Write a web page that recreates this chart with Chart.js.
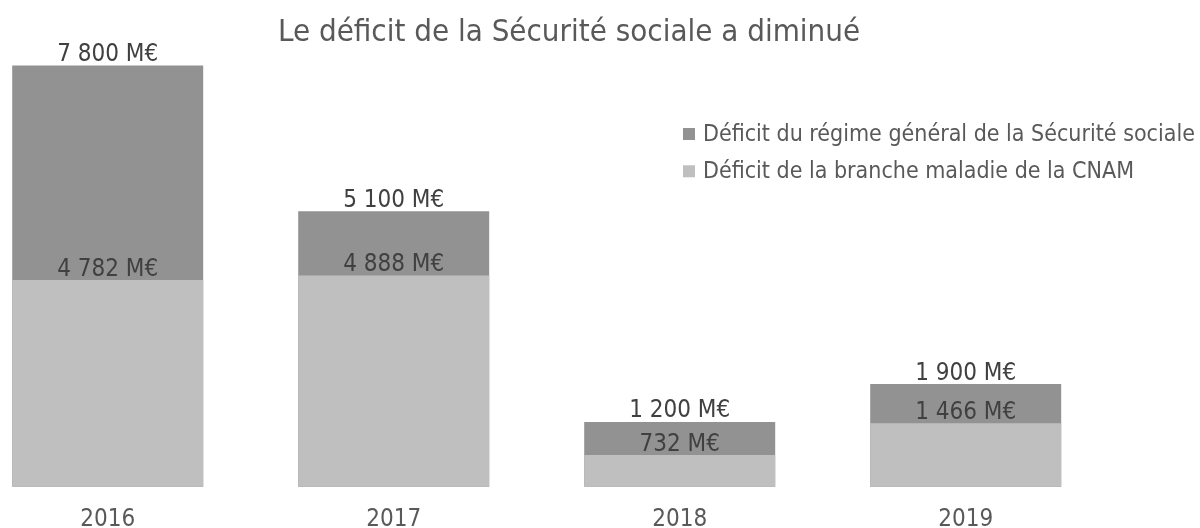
<!DOCTYPE html>
<html><head><meta charset="utf-8">
<script src="https://cdn.jsdelivr.net/npm/chart.js@4"></script>
<style>html,body{margin:0;padding:0;background:#fff;}#wrap{width:1200px;height:528px;position:relative}</style>
</head><body><div id="wrap"><canvas id="c"></canvas></div>
<script>
const chartTitle = 'Le déficit de la Sécurité sociale a diminué';
const years = ['2016', '2017', '2018', '2019'];
const seriesNames = ['Déficit du régime général de la Sécurité sociale', 'Déficit de la branche maladie de la CNAM'];
const regimeGeneral = [7800, 5100, 1200, 1900];
const brancheMaladie = [4782, 4888, 732, 1466];
const unit = 'M€';

const FONT = "'DejaVu Sans Condensed', 'DejaVu Sans', sans-serif";
function fmt(v){ return String(v).replace(/\B(?=(\d{3})+(?!\d))/g, ' ') + ' ' + unit; }

const overlay = {
  id: 'overlay',
  afterDatasetsDraw(chart){
    const ctx = chart.ctx;
    ctx.save();
    // value labels
    ctx.fillStyle = '#404040';
    ctx.font = '24px ' + FONT;
    ctx.textAlign = 'center';
    ctx.textBaseline = 'alphabetic';
    chart.data.datasets.forEach((ds, di) => {
      chart.getDatasetMeta(di).data.forEach((bar, i) => {
        ctx.fillText(fmt(ds.data[i]), bar.x, bar.y - 4.5);
      });
    });
    // title
    ctx.fillStyle = '#595959';
    ctx.font = '31px ' + FONT;
    ctx.fillText(chartTitle, 569, 40.5);
    // legend
    ctx.textAlign = 'left';
    ctx.font = '23px ' + FONT;
    chart.data.datasets.forEach((ds, di) => {
      const base = 141 + 37.3 * di;
      ctx.fillStyle = ds.backgroundColor;
      ctx.fillRect(683, base - 13, 12, 12);
      ctx.fillStyle = '#595959';
      ctx.fillText(ds.label, 703, base);
    });
    ctx.restore();
  }
};

new Chart(document.getElementById('c'), {
  type: 'bar',
  data: {
    labels: years,
    datasets: [
      { label: seriesNames[0], data: regimeGeneral, backgroundColor: '#929292', yAxisID: 'y', order: 1, grouped: false, clip: false },
      { label: seriesNames[1], data: brancheMaladie, backgroundColor: '#bfbfbf', yAxisID: 'y2', order: 0, grouped: false, clip: false }
    ]
  },
  options: {
    responsive: true, maintainAspectRatio: false, animation: false,
    categoryPercentage: 1, barPercentage: 191 / 286,
    layout: { padding: { left: 107.7, right: 234.3, top: 54.7, bottom: 0 } },
    plugins: { legend: { display: false }, title: { display: false }, tooltip: { enabled: false } },
    scales: {
      x: { offset: false, grid: { display: false, drawTicks: false }, border: { display: false },
           afterFit(scale) { scale.height = 41.3; },
           ticks: { color: '#595959', padding: 20.8, font: { family: FONT, size: 24, lineHeight: 1 } } },
      y: { display: false, min: 0, max: 8000 },
      y2: { display: false, min: 0, max: 10000, position: 'right' }
    }
  },
  plugins: [overlay]
});
</script></body></html>
